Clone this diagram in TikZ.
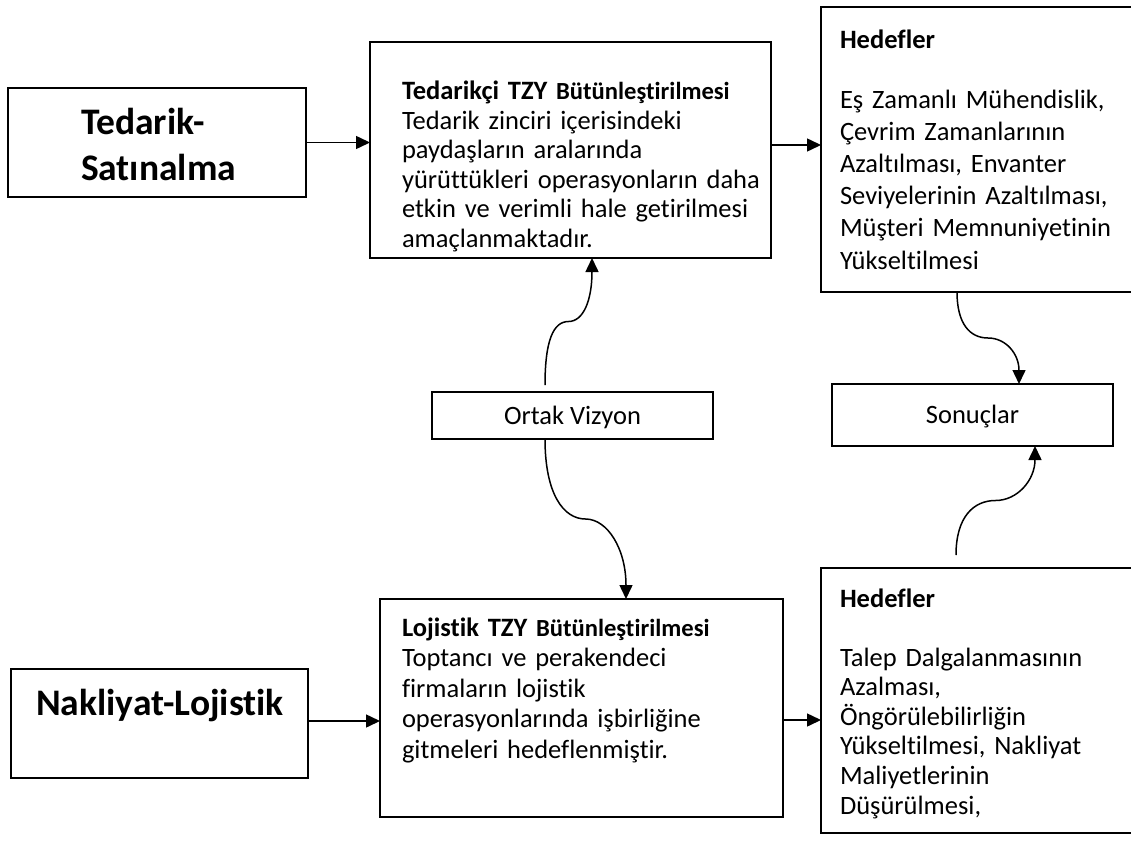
\documentclass[tikz,border=0pt]{standalone}
\usepackage{fontspec}
\setmainfont{Carlito}[Ligatures=NoCommon]
\usetikzlibrary{arrows.meta,calc}
\newcommand\bodysize{\fontsize{26.5}{29.5}\selectfont}
\newcommand\goalsize{\fontsize{26.5}{32.2}\selectfont}
\begin{document}
\begin{tikzpicture}[x=1pt,y=-1pt,
  box/.style={draw, line width=2pt, inner sep=0pt, outer sep=0pt},
  thinbox/.style={draw, line width=1.4pt, inner sep=0pt, outer sep=0pt, font=\bodysize},
  txt/.style={inner sep=0pt, outer sep=0pt, anchor=north west, align=left, text width=420pt, font=\bodysize},
  big/.style={inner sep=0pt, outer sep=0pt, font=\fontsize{37.5}{45}\selectfont\bfseries},
  arr/.style={line width=1.5pt, -{Triangle[length=14pt,width=13pt]}}]
\clip (0,0) rectangle (1131,853);
\fill[white] (0,0) rectangle (1131,853);

% frames
\node[box, minimum width=298pt, minimum height=109pt] (ts) at (157,142.5) {};
\node[box, minimum width=401pt, minimum height=216pt] (tzy) at (570.5,150) {};
\node[box, minimum width=319pt, minimum height=285pt] (hd1) at (980.5,149.5) {};
\node[thinbox, minimum width=281pt, minimum height=47pt, text height=17pt, text depth=0pt] (ov) at (572.5,415.5) {Ortak Vizyon};
\node[thinbox, minimum width=281pt, minimum height=62pt, text height=16pt, text depth=0pt] (so) at (972.5,415) {Sonuçlar};
\node[box, minimum width=297pt, minimum height=109pt] (nk) at (159.5,723.5) {};
\node[box, minimum width=403pt, minimum height=218pt] (lj) at (581.5,708) {};
\node[box, minimum width=319pt, minimum height=265pt] (hd2) at (980.5,700.5) {};

% labels
\node[big, anchor=north west, align=left] (tsl) at (81,105) {\rule{0pt}{30pt}Tedarik-\\Satınalma};
\node[big, anchor=base] (nkl) at (160,715) {Nakliyat-Lojistik};

\node[txt] (tzyl) at (402,78) {\raggedright\rule{0pt}{22pt}\textbf{Tedarikçi TZY {\fontsize{24.6}{29.5}\selectfont Bütünleştirilmesi}}\\
Tedarik zinciri içerisindeki\\
paydaşların aralarında\\
yürüttükleri operasyonların daha\\
etkin ve verimli hale getirilmesi\\
amaçlanmaktadır.};

\node[txt, font=\goalsize] (hd1l) at (840,27) {\raggedright\rule{0pt}{22pt}\textbf{Hedefler}\\[27pt]
Eş Zamanlı Mühendislik,\\
Çevrim Zamanlarının\\
Azaltılması, Envanter\\
Seviyelerinin Azaltılması,\\
Müşteri Memnuniyetinin\\
Yükseltilmesi};

\node[txt, font=\fontsize{26.5}{30.5}\selectfont] (ljl) at (402,614) {\raggedright\rule{0pt}{22pt}\textbf{Lojistik TZY {\fontsize{24.6}{30.5}\selectfont Bütünleştirilmesi}}\\
Toptancı ve perakendeci\\
firmaların lojistik\\
operasyonlarında işbirliğine\\
gitmeleri hedeflenmiştir.};

\node[txt, font=\fontsize{26.5}{29.6}\selectfont] (hd2l) at (840,585) {\raggedright\rule{0pt}{22pt}\textbf{Hedefler}\\[29.4pt]
Talep Dalgalanmasının\\
Azalması,\\
Öngörülebilirliğin\\
Yükseltilmesi, Nakliyat\\
Maliyetlerinin\\
Düşürülmesi,};

% straight connectors
\draw[arr] (ts.east) -- (ts.east -| tzy.west);
\draw[arr] ([yshift=5pt]tzy.east) -- ([yshift=5pt]tzy.east -| hd1.west);
\draw[arr] ([yshift=2.5pt]nk.east) -- ([yshift=2.5pt]nk.east -| lj.west);
\draw[arr] ([yshift=-12pt]lj.east) -- ([yshift=-12pt]lj.east -| hd2.west);

% wavy connectors
\coordinate (s1) at ([xshift=-27.5pt,yshift=7pt]ov.north);
\coordinate (e1) at ([xshift=21.5pt]tzy.south);
\coordinate (m1) at ($(s1)!0.5!(e1)$);
\draw[arr] (s1) .. controls +(0,-45) and +(-15,0) .. (m1) .. controls +(15,0) and +(0,42) .. (e1);

\coordinate (s2) at ([xshift=-27.5pt]ov.south);
\coordinate (e2) at ([xshift=44.5pt]lj.north);
\coordinate (m2) at ($(s2)!0.5!(e2)$);
\draw[arr] (s2) .. controls +(0,55) and +(-22,0) .. (m2) .. controls +(22,0) and +(0,-50) .. (e2);

\coordinate (s3) at ([xshift=-23.5pt]hd1.south);
\coordinate (e3) at ([xshift=46.5pt]so.north);
\coordinate (m3) at ($(s3)!0.5!(e3)$);
\draw[arr] (s3) .. controls +(0,32) and +(-18,0) .. (m3) .. controls +(18,0) and +(0,-30) .. (e3);

\coordinate (s4) at ([xshift=-24.5pt,yshift=13pt]hd2.north);
\coordinate (e4) at ([xshift=62.5pt]so.south);
\coordinate (m4) at ($(s4)!0.5!(e4)$);
\draw[arr] (s4) .. controls +(0,-38) and +(-22,0) .. (m4) .. controls +(22,0) and +(0,34) .. (e4);
\end{tikzpicture}
\end{document}
